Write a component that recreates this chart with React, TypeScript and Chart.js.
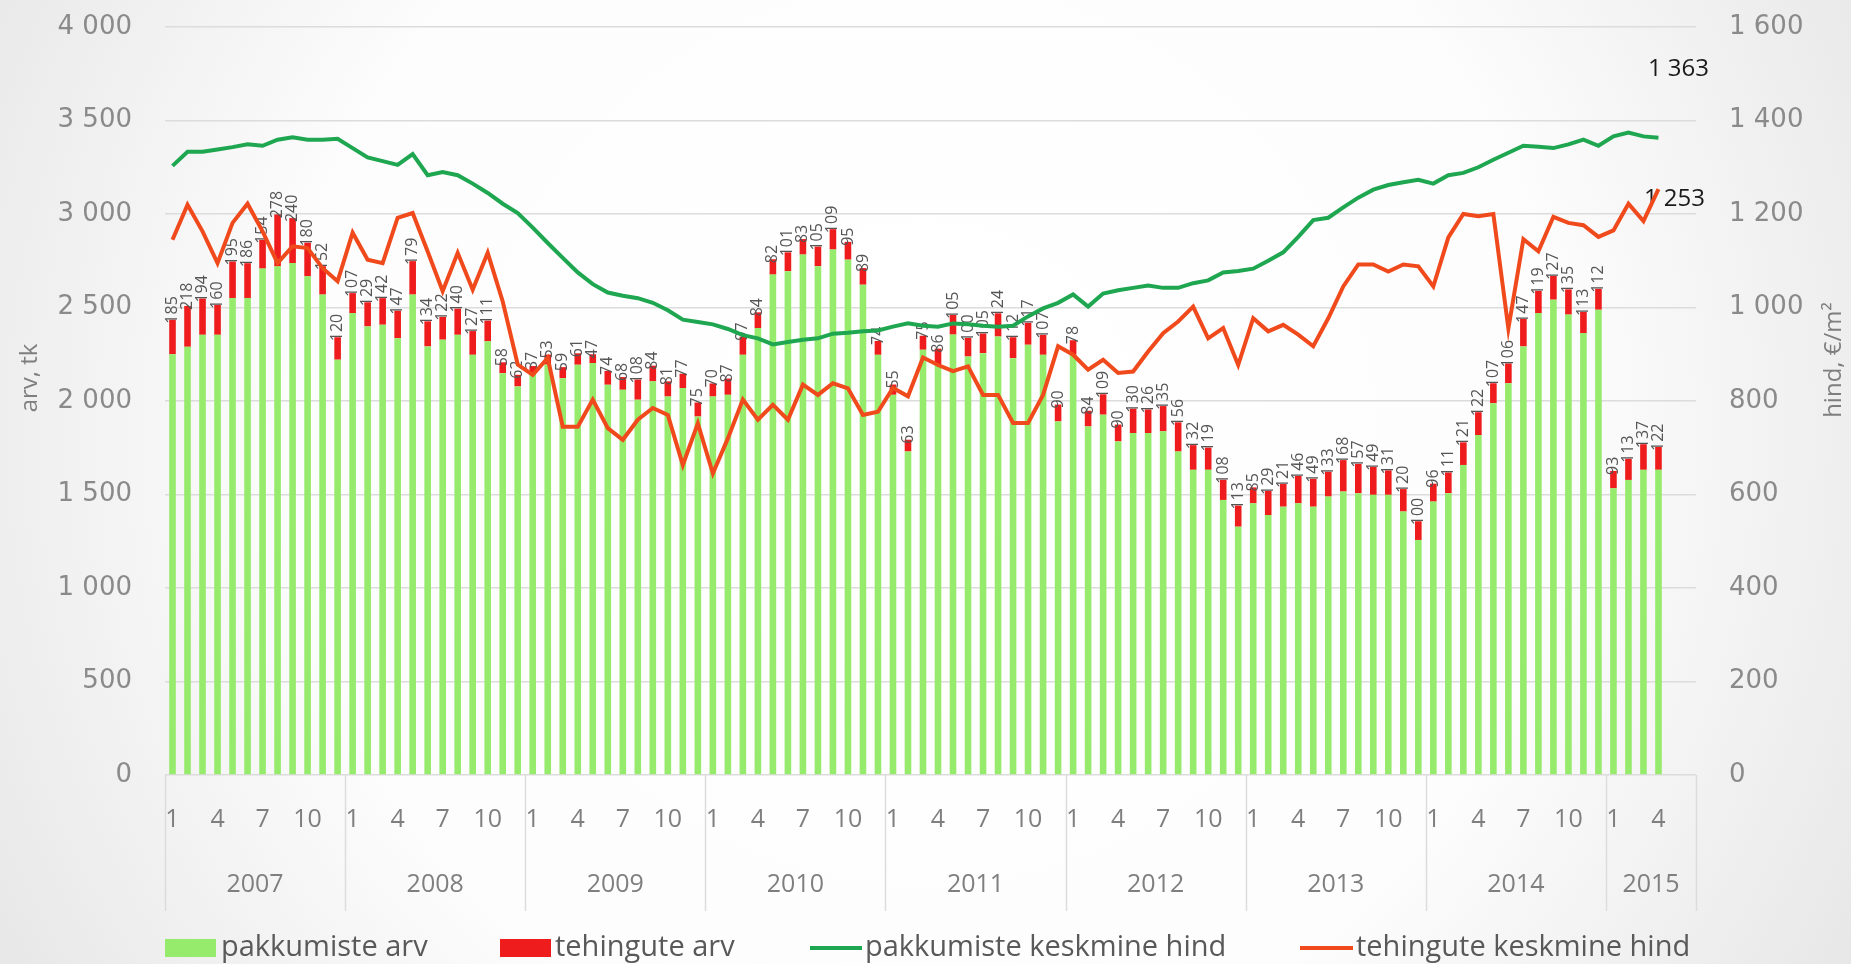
import React, { useEffect, useRef } from 'react';
import { Chart, registerables } from 'chart.js';

Chart.register(...registerables);

// ---------- data ----------
const years = ['2007', '2008', '2009', '2010', '2011', '2012', '2013', '2014', '2015'];
const monthsInLastYear = 6; // axis runs to June 2015, data to April 2015
const shownMonths = [1, 4, 7, 10];

// pakkumiste arv (offers, green bars)
const pakkumisteArv = [
  2250, 2290, 2354, 2354, 2551, 2551, 2708, 2720, 2738, 2667, 2569, 2221,
  2470, 2399, 2408, 2336, 2569, 2292, 2328, 2354, 2247, 2319, 2149, 2078,
  2150, 2195, 2122, 2194, 2203, 2087, 2060, 2007, 2105, 2024, 2069, 1917,
  2024, 2033, 2247, 2390, 2676, 2694, 2783, 2721, 2810, 2756, 2622, 2247,
  2033, 1730, 2274, 2194, 2355, 2238, 2256, 2345, 2229, 2301, 2247, 1891,
  2247, 1864, 1927, 1784, 1829, 1829, 1838, 1730, 1632, 1632, 1471, 1328,
  1453, 1390, 1435, 1453, 1435, 1489, 1516, 1507, 1498, 1498, 1409, 1257,
  1462, 1507, 1658, 1818, 1988, 2095, 2292, 2470, 2542, 2462, 2363, 2488,
  1533, 1578, 1632, 1632,
];

// tehingute arv (transactions, red bars)
const tehinguteArv = [
  185, 218, 194, 160, 195, 186, 154, 278, 240, 180, 152, 120,
  107, 129, 142, 147, 179, 134, 122, 140, 127, 111, 58, 62,
  37, 53, 59, 61, 47, 74, 68, 108, 84, 81, 77, 75,
  70, 87, 97, 84, 82, 101, 83, 105, 109, 95, 89, 74,
  55, 63, 75, 86, 105, 100, 105, 124, 112, 117, 107, 90,
  78, 84, 109, 90, 130, 126, 135, 156, 132, 119, 108, 113,
  85, 129, 121, 146, 149, 133, 168, 157, 149, 131, 120, 100,
  96, 111, 121, 122, 107, 106, 147, 119, 127, 135, 113, 112,
  93, 113, 137, 122,
];

// pakkumiste keskmine hind (green line, €/m2)
const pakkumisteHind = [
  1303, 1333, 1333, 1338, 1343, 1349, 1346, 1359, 1364, 1359, 1359, 1361,
  1341, 1321, 1313, 1305, 1328, 1283, 1290, 1283, 1265, 1245, 1222, 1202,
  1171, 1138, 1106, 1075, 1050, 1032, 1025, 1020, 1010, 994, 974, 969,
  964, 954, 941, 934, 921, 926, 931, 934, 944, 946, 949, 951,
  959, 966, 961, 959, 966, 964, 961, 959, 961, 981, 998, 1010,
  1028, 1002, 1030, 1037, 1042, 1047, 1042, 1042, 1052, 1058, 1075, 1078,
  1083, 1100, 1118, 1151, 1187, 1192, 1214, 1235, 1252, 1262, 1268, 1273,
  1265, 1283, 1288, 1300, 1316, 1331, 1346, 1344, 1341, 1349, 1359, 1346,
  1366, 1374, 1366, 1363,
];

// tehingute keskmine hind (red line, €/m2)
const tehinguteHind = [
  1145, 1220, 1163, 1095, 1181, 1222, 1163, 1095, 1131, 1127, 1084, 1056,
  1160, 1102, 1095, 1192, 1202, 1120, 1035, 1117, 1038, 1117, 1013, 878,
  856, 892, 745, 745, 803, 742, 717, 760, 785, 770, 663, 752,
  645, 720, 803, 760, 792, 760, 835, 813, 838, 827, 770, 777,
  828, 810, 893, 877, 864, 874, 813, 813, 753, 753, 813, 917,
  899, 867, 888, 860, 863, 906, 945, 970, 1002, 934, 956, 877,
  977, 949, 963, 942, 917, 977, 1045, 1092, 1092, 1077, 1092, 1088,
  1045, 1150, 1200, 1195, 1200, 955, 1146, 1120, 1194, 1181, 1176, 1151,
  1165, 1222, 1185, 1253,
];

const seriesNames = ['pakkumiste arv', 'tehingute arv', 'pakkumiste keskmine hind', 'tehingute keskmine hind'];
const yLeftTitle = 'arv, tk';
const yRightTitle = 'hind, €/m²';

// ---------- derived ----------
const categories: string[] = [];
years.forEach((y, i) => {
  const n = i === years.length - 1 ? monthsInLastYear : 12;
  for (let m = 1; m <= n; m++) categories.push(`${y}-${m}`);
});

const fmt = (v: number) => String(v).replace(/\B(?=(\d{3})+(?!\d))/g, ' ');

const COLORS = {
  greenBar: '#96ea6c',
  redBar: '#ee1c1c',
  greenLine: '#1ea650',
  redLine: '#f04a1c',
  tick: '#8a8a8a',
  axisText: '#7f7f7f',
  legendText: '#595959',
  grid: '#dcdcdc',
};

const TEXT_FONT = '"Open Sans", "Noto Sans", sans-serif';

const decorPlugin = {
  id: 'decor',
  beforeDraw(chart: any) {
    const { ctx, width, height } = chart;
    ctx.save();
    const g = ctx.createRadialGradient(width * 0.5, height * 0.45, 0, width * 0.5, height * 0.45, width * 0.62);
    g.addColorStop(0, '#ffffff');
    g.addColorStop(0.55, '#fdfdfd');
    g.addColorStop(1, '#e3e3e3');
    ctx.fillStyle = g;
    ctx.fillRect(0, 0, width, height);
    ctx.restore();
  },
  beforeDatasetsDraw(chart: any) {
    const { ctx } = chart;
    const g = chart.getDatasetMeta(2).data;
    const r = chart.getDatasetMeta(3).data;
    const gl = g[g.length - 1];
    const rl = r[r.length - 1];
    ctx.save();
    ctx.font = `24px ${TEXT_FONT}`;
    ctx.fillStyle = '#1a1a1a';
    ctx.textAlign = 'center';
    ctx.textBaseline = 'middle';
    if (gl) ctx.fillText(fmt(pakkumisteHind[pakkumisteHind.length - 1]), gl.x + 20, gl.y - 69);
    if (rl) ctx.fillText(fmt(tehinguteHind[tehinguteHind.length - 1]), rl.x + 16, rl.y + 10);
    ctx.restore();
  },
  afterDatasetDraw(chart: any, args: any) {
    if (args.index !== 1) return;
    const { ctx } = chart;
    const meta = chart.getDatasetMeta(1);
    ctx.save();
    ctx.font = `16px ${TEXT_FONT}`;
    ctx.fillStyle = '#555555';
    ctx.textAlign = 'left';
    ctx.textBaseline = 'middle';
    meta.data.forEach((el: any, i: number) => {
      const v = tehinguteArv[i];
      if (v == null) return;
      ctx.save();
      ctx.translate(el.x, el.y + 4);
      ctx.rotate(-Math.PI / 2);
      ctx.fillText(String(v), 0, 0);
      ctx.restore();
    });
    ctx.restore();
  },
  afterDraw(chart: any) {
    const { ctx, chartArea } = chart;
    const xs = chart.scales.x;
    const step = xs.getPixelForValue(1) - xs.getPixelForValue(0);
    const edge = (i: number) => xs.getPixelForValue(0) + (i - 0.5) * step;
    ctx.save();
    // year separators
    ctx.strokeStyle = COLORS.grid;
    ctx.lineWidth = 1.5;
    let idx = 0;
    const bounds: number[] = [0];
    years.forEach((_, i) => {
      idx += i === years.length - 1 ? monthsInLastYear : 12;
      bounds.push(idx);
    });
    bounds.forEach((b) => {
      const x = Math.round(edge(b)) + 0.5;
      ctx.beginPath();
      ctx.moveTo(x, chartArea.bottom);
      ctx.lineTo(x, chartArea.bottom + 136);
      ctx.stroke();
    });
    // year labels
    ctx.font = `25px ${TEXT_FONT}`;
    ctx.fillStyle = COLORS.axisText;
    ctx.textAlign = 'center';
    ctx.textBaseline = 'middle';
    years.forEach((y, i) => {
      const cx = (edge(bounds[i]) + edge(bounds[i + 1])) / 2;
      ctx.fillText(y, cx, 885);
    });
    // axis titles
    ctx.font = `24px ${TEXT_FONT}`;
    ctx.fillStyle = COLORS.axisText;
    ctx.save();
    ctx.translate(30, 378);
    ctx.rotate(-Math.PI / 2);
    ctx.fillText(yLeftTitle, 0, 0);
    ctx.restore();
    ctx.save();
    ctx.translate(1834, 360);
    ctx.rotate(-Math.PI / 2);
    ctx.fillText(yRightTitle, 0, 0);
    ctx.restore();
    // legend
    const ly = 948;
    ctx.font = `29px ${TEXT_FONT}`;
    ctx.fillStyle = COLORS.legendText;
    ctx.textAlign = 'left';
    const items = [
      { type: 'box', color: COLORS.greenBar, x0: 165, x1: 216, tx: 221 },
      { type: 'box', color: COLORS.redBar, x0: 500, x1: 551, tx: 555 },
      { type: 'line', color: COLORS.greenLine, x0: 810, x1: 862, tx: 865 },
      { type: 'line', color: COLORS.redLine, x0: 1300, x1: 1353, tx: 1356 },
    ];
    items.forEach((it, i) => {
      if (it.type === 'box') {
        ctx.fillStyle = it.color;
        ctx.fillRect(it.x0, ly - 9, it.x1 - it.x0, 18);
      } else {
        ctx.strokeStyle = it.color;
        ctx.lineWidth = 4;
        ctx.beginPath();
        ctx.moveTo(it.x0, ly);
        ctx.lineTo(it.x1, ly);
        ctx.stroke();
      }
      ctx.fillStyle = COLORS.legendText;
      ctx.fillText(seriesNames[i], it.tx, ly);
    });
    ctx.restore();
  },
};

const noVerticalPad = (width: number) => (scale: any) => {
  scale.width = width;
  scale.paddingTop = 0;
  scale.paddingBottom = 0;
};

export default function App() {
  const canvasRef = useRef<HTMLCanvasElement | null>(null);

  useEffect(() => {
    const canvas = canvasRef.current;
    if (!canvas) return;
    const chart = new Chart(canvas, {
      type: 'bar',
      data: {
        labels: categories,
        datasets: [
          {
            type: 'bar',
            label: seriesNames[0],
            data: pakkumisteArv,
            backgroundColor: COLORS.greenBar,
            yAxisID: 'y',
            stack: 'arv',
            order: 2,
            categoryPercentage: 1,
            barPercentage: 0.44,
          },
          {
            type: 'bar',
            label: seriesNames[1],
            data: tehinguteArv,
            backgroundColor: COLORS.redBar,
            yAxisID: 'y',
            stack: 'arv',
            order: 2,
            categoryPercentage: 1,
            barPercentage: 0.44,
          },
          {
            type: 'line',
            label: seriesNames[2],
            data: pakkumisteHind,
            borderColor: COLORS.greenLine,
            backgroundColor: COLORS.greenLine,
            borderWidth: 4,
            pointRadius: 0,
            tension: 0,
            yAxisID: 'y1',
            order: 1,
          },
          {
            type: 'line',
            label: seriesNames[3],
            data: tehinguteHind,
            borderColor: COLORS.redLine,
            backgroundColor: COLORS.redLine,
            borderWidth: 4,
            pointRadius: 0,
            tension: 0,
            yAxisID: 'y1',
            order: 1,
          },
        ] as any,
      },
      options: {
        responsive: false,
        animation: false,
        devicePixelRatio: 1,
        layout: { padding: { top: 27, left: 0, right: 0, bottom: 0 } },
        plugins: {
          legend: { display: false },
          tooltip: { enabled: false },
        },
        scales: {
          x: {
            stacked: true,
            grid: { display: false, drawTicks: false },
            border: { display: false },
            ticks: {
              autoSkip: false,
              maxRotation: 0,
              minRotation: 0,
              padding: 30,
              color: COLORS.axisText,
              font: { family: TEXT_FONT, size: 25 },
              callback: (_v: any, index: number) => {
                const m = Number(categories[index].split('-')[1]);
                return shownMonths.includes(m) ? String(m) : '';
              },
            },
            afterFit: (scale: any) => {
              scale.height = 189;
              scale.paddingLeft = 0;
              scale.paddingRight = 0;
            },
          },
          y: {
            stacked: true,
            position: 'left',
            min: 0,
            max: 4000,
            grid: { color: COLORS.grid, lineWidth: 1.5, drawTicks: false },
            border: { display: false },
            ticks: {
              stepSize: 500,
              padding: 33,
              color: COLORS.tick,
              font: { family: '"DejaVu Sans", sans-serif', size: 26 },
              callback: (v: any) => fmt(Number(v)),
            },
            afterFit: noVerticalPad(165),
          },
          y1: {
            stacked: false,
            position: 'right',
            min: 0,
            max: 1600,
            grid: { display: false, drawTicks: false },
            border: { display: false },
            ticks: {
              stepSize: 200,
              padding: 33,
              color: COLORS.tick,
              font: { family: '"DejaVu Sans", sans-serif', size: 26 },
              callback: (v: any) => fmt(Number(v)),
            },
            afterFit: noVerticalPad(155),
          },
        },
      } as any,
      plugins: [decorPlugin],
    });
    return () => chart.destroy();
  }, []);

  return (
    <div style={{ position: 'fixed', left: 0, top: 0, width: 1851, height: 964 }}>
      <canvas ref={canvasRef} width={1851} height={964} style={{ width: 1851, height: 964, display: 'block' }} />
    </div>
  );
}
